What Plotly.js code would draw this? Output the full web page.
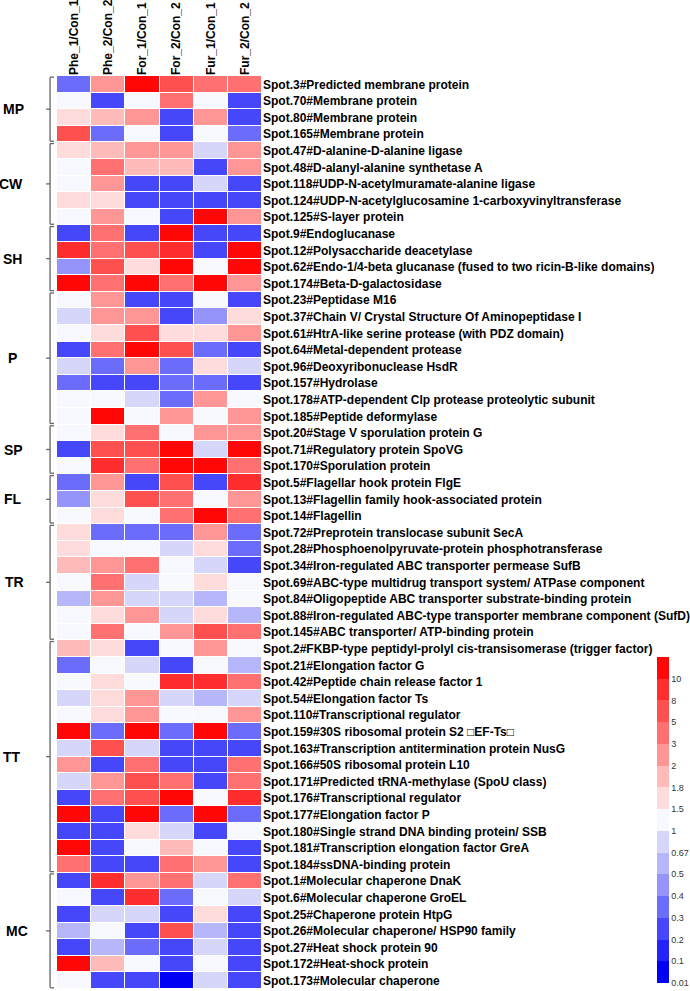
<!DOCTYPE html>
<html>
<head>
<meta charset="utf-8">
<script src="https://cdn.plot.ly/plotly-3.0.1.min.js"></script>
<style>html,body{margin:0;padding:0;background:#fff;}#chart{width:690px;height:991px;}</style>
</head>
<body>
<div id="chart"></div>
<script>
// ---------- DATA ----------
const columns = ["Phe_1/Con_1","Phe_2/Con_2","For_1/Con_1","For_2/Con_2","Fur_1/Con_1","Fur_2/Con_2"];

const rows = [
 "Spot.3#Predicted membrane protein",
 "Spot.70#Membrane protein",
 "Spot.80#Membrane protein",
 "Spot.165#Membrane protein",
 "Spot.47#D-alanine-D-alanine ligase",
 "Spot.48#D-alanyl-alanine synthetase A",
 "Spot.118#UDP-N-acetylmuramate-alanine ligase",
 "Spot.124#UDP-N-acetylglucosamine 1-carboxyvinyltransferase",
 "Spot.125#S-layer protein",
 "Spot.9#Endoglucanase",
 "Spot.12#Polysaccharide deacetylase",
 "Spot.62#Endo-1/4-beta glucanase (fused to two ricin-B-like domains)",
 "Spot.174#Beta-D-galactosidase",
 "Spot.23#Peptidase M16",
 "Spot.37#Chain V/ Crystal Structure Of Aminopeptidase I",
 "Spot.61#HtrA-like serine protease (with PDZ domain)",
 "Spot.64#Metal-dependent protease",
 "Spot.96#Deoxyribonuclease HsdR",
 "Spot.157#Hydrolase",
 "Spot.178#ATP-dependent Clp protease proteolytic subunit",
 "Spot.185#Peptide deformylase",
 "Spot.20#Stage V sporulation protein G",
 "Spot.71#Regulatory protein SpoVG",
 "Spot.170#Sporulation protein",
 "Spot.5#Flagellar hook protein FlgE",
 "Spot.13#Flagellin family hook-associated protein",
 "Spot.14#Flagellin",
 "Spot.72#Preprotein translocase subunit SecA",
 "Spot.28#Phosphoenolpyruvate-protein phosphotransferase",
 "Spot.34#Iron-regulated ABC transporter permease SufB",
 "Spot.69#ABC-type multidrug transport system/ ATPase component",
 "Spot.84#Oligopeptide ABC transporter substrate-binding protein",
 "Spot.88#Iron-regulated ABC-type transporter membrane component (SufD)",
 "Spot.145#ABC transporter/ ATP-binding protein",
 "Spot.2#FKBP-type peptidyl-prolyl cis-transisomerase (trigger factor)",
 "Spot.21#Elongation factor G",
 "Spot.42#Peptide chain release factor 1",
 "Spot.54#Elongation factor Ts",
 "Spot.110#Transcriptional regulator",
 "Spot.159#30S ribosomal protein S2 \u25A1EF-Ts\u25A1",
 "Spot.163#Transcription antitermination protein NusG",
 "Spot.166#50S ribosomal protein L10",
 "Spot.171#Predicted tRNA-methylase (SpoU class)",
 "Spot.176#Transcriptional regulator",
 "Spot.177#Elongation factor P",
 "Spot.180#Single strand DNA binding protein/ SSB",
 "Spot.181#Transcription elongation factor GreA",
 "Spot.184#ssDNA-binding protein",
 "Spot.1#Molecular chaperone DnaK",
 "Spot.6#Molecular chaperone GroEL",
 "Spot.25#Chaperone protein HtpG",
 "Spot.26#Molecular chaperone/ HSP90 family",
 "Spot.27#Heat shock protein 90",
 "Spot.172#Heat-shock protein",
 "Spot.173#Molecular chaperone"
];

// fold-change ratios (estimated)
const phe1 = [0.35,1.2,1.6,6,1.6,1.2,1.2,1.6,1.2,0.25,9,0.45,12,1.2,0.8,1.2,0.25,0.8,0.35,1.2,1.2,1.2,0.25,1.2,0.35,0.45,1.2,1.6,1.6,1.9,1.2,0.6,1.2,1.2,1.9,0.35,1.2,0.8,1.2,12,0.8,2.5,0.8,0.25,12,0.25,12,4,0.25,1.2,0.25,0.6,0.25,12,1.2];
const phe2 = [2.5,0.25,1.9,0.35,1.9,4,2.5,1.6,2.5,4,4,6,4,2.5,2.5,1.6,4,0.35,0.25,1.2,12,1.6,6,9,2.5,1.6,1.6,0.35,1.2,2.5,4,2.5,1.6,4,1.6,1.2,1.6,1.6,1.6,0.35,6,0.25,2.5,4,0.25,0.25,0.25,0.25,9,0.25,0.8,1.2,0.6,1.9,0.25];
const for1 = [12,1.2,2.5,1.2,2.5,1.9,0.25,0.25,1.2,0.25,6,1.6,12,0.25,2.5,6,12,2.5,0.25,0.8,1.2,4,6,4,0.25,6,1.2,0.35,1.2,4,0.8,0.8,2.5,1.2,0.25,0.8,1.2,2.5,2.5,12,0.8,4,6,6,12,1.6,1.2,0.25,2.5,9,0.8,0.25,0.35,1.2,0.25];
const for2 = [6,4,0.25,0.25,2.5,1.9,0.25,0.25,0.25,12,9,12,4,0.25,0.25,1.6,6,0.35,0.35,0.35,2.5,1.2,12,12,6,4,4,0.35,0.8,1.2,1.2,0.8,0.8,2.5,1.2,0.25,9,0.8,1.2,0.35,0.25,0.25,4,12,0.35,0.8,1.9,4,4,0.35,0.25,6,0.25,0.25,0.05];
const fur1 = [4,1.2,2.5,1.2,0.8,0.25,0.8,0.25,12,0.25,0.25,1.2,12,1.2,0.45,1.6,0.35,1.6,0.35,2.5,1.2,2.5,0.8,12,0.25,1.2,12,2.5,1.6,0.8,1.6,0.6,1.6,6,2.5,1.2,9,0.6,1.2,12,0.25,0.25,0.25,1.2,12,0.25,1.2,2.5,0.8,1.2,1.6,0.6,0.8,1.2,0.8];
const fur2 = [4,0.25,0.25,0.35,2.5,2.5,0.25,0.25,2.5,0.25,12,12,2.5,0.25,1.6,2.5,0.25,0.8,0.25,1.2,2.5,2.5,12,4,9,2.5,4,0.35,0.35,0.25,1.2,1.2,0.6,4,1.2,0.6,4,0.8,2.5,0.35,0.25,4,4,9,0.35,1.2,0.25,0.25,4,0.8,0.25,0.25,0.25,0.25,0.25];

const groups = [
 {name:"MP", start:0,  end:3,  lx:13},
 {name:"CW", start:4,  end:8,  lx:11},
 {name:"SH", start:9,  end:12, lx:12},
 {name:"P",  start:13, end:20, lx:12},
 {name:"SP", start:21, end:23, lx:13},
 {name:"FL", start:24, end:26, lx:12.5},
 {name:"TR", start:27, end:33, lx:14},
 {name:"TT", start:34, end:47, lx:12},
 {name:"MC", start:48, end:54, lx:17}
];

// colour-key breakpoints and labels
const breaks = [0.1,0.2,0.3,0.4,0.5,0.67,1,1.5,1.8,2,3,5,8,10];
const keyLabels = ["0.01","0.1","0.2","0.3","0.4","0.5","0.67","1","1.5","1.8","2","3","5","8","10"];
const binColors = ["#0000F5","#2424FA","#4646FA","#6C6CFA","#9494FA","#B6B6FA","#D6D6FA","#F8F8FF",
                   "#FFDCDC","#FFBABA","#FF9696","#FF7070","#FF5050","#FF2E2E","#FF0707"];

// ---------- BUILD ----------
const series = [phe1, phe2, for1, for2, fur1, fur2];
function binOf(v){ let b=0; while(b<breaks.length && v>=breaks[b]) b++; return b; }
const z = rows.map((r,i)=> series.map(s => binOf(s[i]) + 0.5));
const nb = binColors.length;
const colorscale = [];
binColors.forEach((c,i)=>{ colorscale.push([i/nb,c]); colorscale.push([(i+1)/nb,c]); });

const W = 690, H = 991;
const L = 57, R = 264, T = 76, B = 989;
const pw = R - L, ph = B - T;
const px2x = p => (p - L)/pw;
const py2y = p => (B - p)/ph;

const trace = {
  type:'heatmap', x: columns, y: rows, z: z,
  zmin:0, zmax:nb, colorscale: colorscale,
  xgap:1, ygap:1,
  hoverongaps:false,
  colorbar:{
    x: px2x(663), xanchor:'left', xref:'paper',
    y: py2y(983), yanchor:'bottom', yref:'paper',
    thickness:12, thicknessmode:'pixels',
    len:326, lenmode:'pixels',
    outlinewidth:0, xpad:0, ypad:0,
    tickvals: keyLabels.map((_,i)=>i), ticktext: keyLabels,
    ticks:'', ticklen:0,
    tickfont:{family:'Liberation Sans, Arial, sans-serif', size:9, color:'#333'}
  }
};

const shapes = [], annotations = [];
const gapRow = 0.07;
groups.forEach(g=>{
  const y0 = g.start - 0.5 + gapRow, y1 = g.end + 0.5 - gapRow, ym = (g.start+g.end)/2;
  const xv = px2x(50), xr = px2x(54), xl = px2x(46);
  const line = {color:'#666', width:1.3};
  shapes.push({type:'line', xref:'paper', yref:'y', x0:xv, x1:xv, y0:y0, y1:y1, line});
  shapes.push({type:'line', xref:'paper', yref:'y', x0:xv, x1:xr, y0:y0, y1:y0, line});
  shapes.push({type:'line', xref:'paper', yref:'y', x0:xv, x1:xr, y0:y1, y1:y1, line});
  shapes.push({type:'line', xref:'paper', yref:'y', x0:xl, x1:xv, y0:ym, y1:ym, line});
  annotations.push({text:g.name, xref:'paper', yref:'y', x:px2x(g.lx), y:ym,
    xanchor:'center', yanchor:'middle', showarrow:false,
    font:{family:'Liberation Sans, Arial, sans-serif', size:14, color:'#000', weight:'bold'}});
});

const layout = {
  width:W, height:H,
  margin:{l:L, r:W-R, t:T, b:H-B, pad:0},
  paper_bgcolor:'#fff', plot_bgcolor:'#fff',
  showlegend:false,
  xaxis:{type:'category', side:'top', tickangle:-90, ticks:'', showgrid:false, zeroline:false,
         showline:false, automargin:false, fixedrange:true,
         tickfont:{family:'Liberation Sans, Arial, sans-serif', size:12, color:'#000', weight:'bold'}},
  yaxis:{type:'category', side:'right', ticks:'', showgrid:false, zeroline:false,
         showline:false, automargin:false, fixedrange:true,
         categoryorder:'array', categoryarray: rows, range:[rows.length-0.5, -0.5],
         tickfont:{family:'Liberation Sans, Arial, sans-serif', size:12, color:'#000', weight:'bold'}},
  shapes: shapes, annotations: annotations
};

Plotly.newPlot('chart', [trace], layout, {displayModeBar:false, staticPlot:true});
</script>
</body>
</html>
